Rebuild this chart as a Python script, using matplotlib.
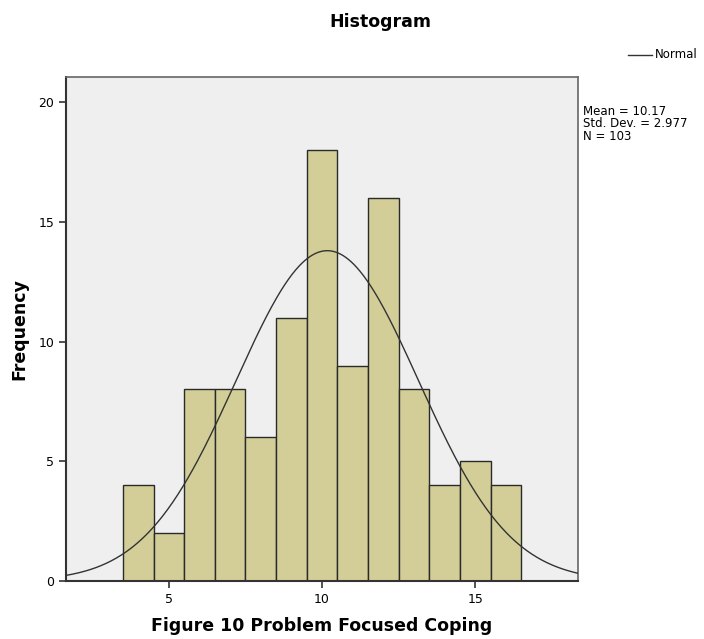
import numpy as np
import matplotlib.pyplot as plt

# 数据
bin_centers = [4, 5, 6, 7, 8, 9, 10, 11, 12, 13, 14, 15, 16]
counts = [4, 2, 8, 8, 6, 11, 18, 9, 16, 8, 4, 5, 4]
mean_val = 10.17
std_val = 2.977
n_val = 103
bin_width = 1.0

fig = plt.figure(figsize=(7.04, 6.39), dpi=100)
ax = fig.add_axes([0.094, 0.091, 0.727, 0.788])
ax.set_facecolor('#efefef')

ax.bar(bin_centers, counts, width=bin_width, color='#d3ce98', edgecolor='#2a2a2a', linewidth=1.0, zorder=2)

# 正态曲线
x = np.linspace(1.65, 18.35, 400)
y = n_val * bin_width / (std_val * np.sqrt(2 * np.pi)) * np.exp(-0.5 * ((x - mean_val) / std_val) ** 2)
ax.plot(x, y, color='#333333', linewidth=1.0, zorder=3)

ax.set_xlim(1.65, 18.35)
ax.set_ylim(0, 21.05)
ax.set_xticks([5, 10, 15])
ax.set_yticks([0, 5, 10, 15, 20])
ax.tick_params(direction='out', length=5, width=1.2, labelsize=9, color='#333333')

for s in ['left', 'bottom']:
    ax.spines[s].set_color('#333333')
    ax.spines[s].set_linewidth(1.5)
for s in ['top', 'right']:
    ax.spines[s].set_color('#666666')
    ax.spines[s].set_linewidth(1.2)

fig.text(0.541, 0.966, 'Histogram', ha='center', va='center', fontsize=12.5, fontweight='bold')
ax.set_xlabel('Figure 10 Problem Focused Coping', fontsize=12.5, fontweight='bold', labelpad=8)
ax.set_ylabel('Frequency', fontsize=12.5, fontweight='bold', labelpad=7)

# 图例
fig.lines.append(plt.Line2D([0.892, 0.926], [0.914, 0.914], transform=fig.transFigure, color='#333333', linewidth=1.0))
fig.text(0.930, 0.914, 'Normal', ha='left', va='center', fontsize=8.5)
fig.text(0.828, 0.836, 'Mean = 10.17\nStd. Dev. = 2.977\nN = 103', ha='left', va='top', fontsize=8.5, linespacing=0.95)

plt.savefig('out.png', dpi=100)
